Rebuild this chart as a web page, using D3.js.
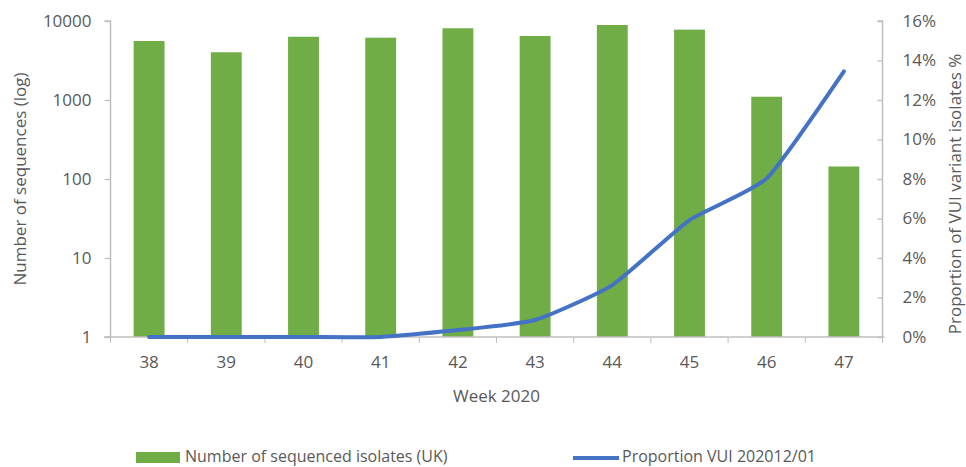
<!DOCTYPE html>
<html>
<head>
<meta charset="utf-8">
<script src="https://cdn.jsdelivr.net/npm/d3@7"></script>
<style>
  html, body { margin: 0; padding: 0; background: #ffffff; }
  svg { display: block; }
  text { font-family: "Open Sans", "Liberation Sans", sans-serif; fill: #595959; }
</style>
</head>
<body>
<svg id="chart" width="966" height="467"></svg>
<script>
// Weekly counts of sequenced isolates (UK) and share of VUI 202012/01
const weeks = ["38", "39", "40", "41", "42", "43", "44", "45", "46", "47"];
const sequencedIsolates = [5580, 4020, 6320, 6150, 8090, 6460, 8900, 7770, 1100, 144];
const proportionVUI = [0, 0, 0, 0, 0.0035, 0.0086, 0.0263, 0.0592, 0.0803, 0.1345];
const leftTicks = [1, 10, 100, 1000, 10000];
const rightTicks = [0, 0.02, 0.04, 0.06, 0.08, 0.10, 0.12, 0.14, 0.16];

const svg = d3.select("#chart");
const plot = { left: 110.5, right: 882.5, top: 21, bottom: 337 };
const axisColor = "#bfbfbf";
const barColor = "#70ad47";
const lineColor = "#4472c4";

const x = d3.scaleBand().domain(weeks)
  .range([plot.left, plot.right]).paddingInner(0.6).paddingOuter(0.3);
const yLeft = d3.scaleLog().domain([1, 10000]).range([plot.bottom, plot.top]);
const yRight = d3.scaleLinear().domain([0, 0.16]).range([plot.bottom, plot.top]);

// Bars on the log axis
svg.append("g").selectAll("rect")
  .data(weeks)
  .join("rect")
  .attr("x", (d) => x(d))
  .attr("width", x.bandwidth())
  .attr("y", (d, i) => yLeft(sequencedIsolates[i]))
  .attr("height", (d, i) => yLeft(1) - yLeft(sequencedIsolates[i]))
  .attr("fill", barColor);

// Left axis (log)
const gLeft = svg.append("g").attr("transform", `translate(${plot.left},0)`)
  .call(d3.axisLeft(yLeft).tickValues(leftTicks).tickFormat(d3.format("d")).tickSize(6).tickPadding(13));
// Right axis (percent)
const gRight = svg.append("g").attr("transform", `translate(${plot.right},0)`)
  .call(d3.axisRight(yRight).tickValues(rightTicks).tickFormat(d3.format(".0%")).tickSize(-5).tickPadding(20));
// Bottom axis with ticks at category boundaries
const gBottom = svg.append("g").attr("transform", `translate(0,${plot.bottom})`)
  .call(d3.axisBottom(x).tickSize(0).tickPadding(19));
gBottom.selectAll(".boundary")
  .data(d3.range(weeks.length + 1))
  .join("line")
  .attr("class", "boundary")
  .attr("x1", (i) => plot.left + i * x.step())
  .attr("x2", (i) => plot.left + i * x.step())
  .attr("y1", 0).attr("y2", 6)
  .attr("stroke", axisColor);

[gLeft, gRight, gBottom].forEach((g) => {
  g.select(".domain").attr("stroke", axisColor).attr("stroke-width", 1.5);
  g.selectAll(".tick line").attr("stroke", axisColor).attr("stroke-width", 1.3);
  g.selectAll(".tick text").attr("fill", "#595959").style("font-size", "17px")
    .style("font-family", "'Open Sans', sans-serif");
});
gLeft.select(".domain").attr("d", `M-6,${plot.top}H0V${plot.bottom}H-6`);
gRight.select(".domain").attr("d", `M-5,${plot.top}H0V${plot.bottom}`);
gBottom.select(".domain").attr("d", `M${plot.left - 6},0H${plot.right + 2}`);
gRight.selectAll(".tick text").attr("text-anchor", "start");

// Proportion line on the percent axis, lightly smoothed
const line = d3.line()
  .x((d, i) => x(weeks[i]) + x.bandwidth() / 2)
  .y((d) => yRight(d))
  .curve(d3.curveCardinal.tension(0.5));
svg.append("path")
  .datum(proportionVUI)
  .attr("d", line)
  .attr("fill", "none")
  .attr("stroke", lineColor)
  .attr("stroke-width", 4)
  .attr("stroke-linecap", "round")
  .attr("stroke-linejoin", "round");

// Axis titles
svg.append("text")
  .attr("transform", `translate(21,${(plot.top + plot.bottom) / 2}) rotate(-90)`)
  .attr("text-anchor", "middle").attr("dominant-baseline", "middle")
  .style("font-size", "17px")
  .text("Number of sequences (log)");
svg.append("text")
  .attr("transform", `translate(956,194) rotate(-90)`)
  .attr("text-anchor", "middle").attr("dominant-baseline", "middle")
  .style("font-size", "17px")
  .text("Proportion of VUI variant isolates %");
svg.append("text")
  .attr("x", (plot.left + plot.right) / 2).attr("y", 397)
  .attr("text-anchor", "middle").attr("dominant-baseline", "middle")
  .style("font-size", "17px")
  .text("Week 2020");

// Legend
const legend = svg.append("g");
legend.append("rect").attr("x", 136).attr("y", 452).attr("width", 44).attr("height", 11).attr("fill", barColor);
legend.append("text").attr("x", 185).attr("y", 458).attr("dominant-baseline", "middle")
  .style("font-size", "16px").text("Number of sequenced isolates (UK)");
legend.append("line").attr("x1", 573).attr("x2", 619).attr("y1", 458).attr("y2", 458)
  .attr("stroke", lineColor).attr("stroke-width", 4);
legend.append("text").attr("x", 622).attr("y", 458).attr("dominant-baseline", "middle")
  .style("font-size", "16px").text("Proportion VUI 202012/01");
</script>
</body>
</html>
